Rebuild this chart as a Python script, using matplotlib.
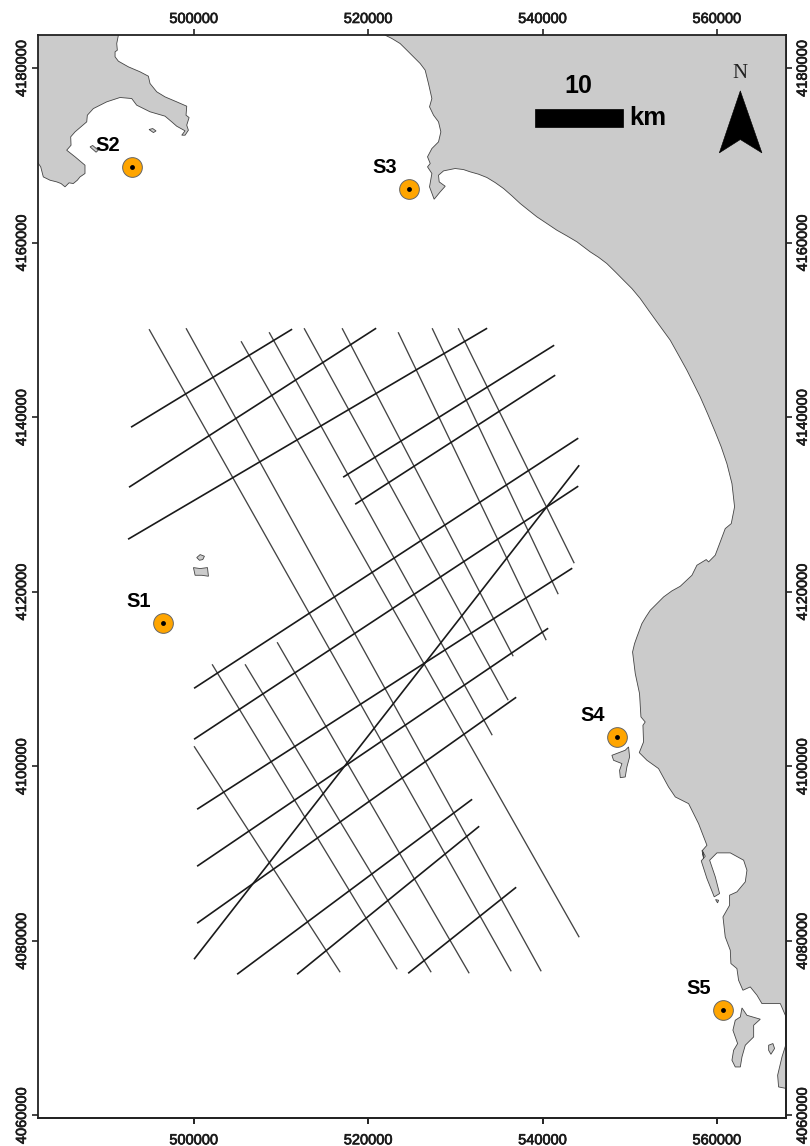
import numpy as np
import matplotlib
matplotlib.use("Agg")
import matplotlib.pyplot as plt
import matplotlib.patheffects as pe
from matplotlib.patches import Polygon, Rectangle

plt.rcParams['font.family'] = ['Liberation Sans', 'DejaVu Sans']

# All coordinates are easting, northing in km
x_ticks = [500000, 520000, 540000, 560000]
y_ticks = [4060000, 4080000, 4100000, 4120000, 4140000, 4160000, 4180000]
x_limits = [482.1, 567.9]
y_limits = [4059.7, 4183.8]

site_names = ['S1', 'S2', 'S3', 'S4', 'S5']
site_e = [496.44, 492.89, 524.67, 548.54, 560.70]
site_n = [4116.40, 4168.65, 4166.13, 4103.33, 4072.04]

# NW-SE tracks: (E start, N start, E end, N end)
tracks_nwse = [
    (494.84, 4150.09, 536.38, 4076.51),
    (499.08, 4150.20, 539.82, 4076.51),
    (505.39, 4148.71, 544.18, 4080.41),
    (508.61, 4149.74, 534.20, 4103.56),
    (512.62, 4150.20, 536.03, 4107.57),
    (516.98, 4150.20, 536.61, 4112.61),
    (523.41, 4149.74, 540.39, 4114.45),
    (527.31, 4150.20, 541.77, 4119.72),
    (530.30, 4150.20, 543.61, 4123.27),
    (500.00, 4102.30, 516.76, 4076.40),
    (502.07, 4111.69, 523.30, 4076.74),
    (505.85, 4111.69, 527.20, 4076.40),
    (509.53, 4114.22, 531.56, 4076.28),
]
# SW-NE tracks
tracks_swne = [
    (492.77, 4138.86, 511.25, 4150.09),
    (492.54, 4131.98, 520.89, 4150.20),
    (492.43, 4126.02, 533.62, 4150.20),
    (517.10, 4133.13, 541.31, 4148.25),
    (518.48, 4130.03, 541.43, 4144.82),
    (500.00, 4108.94, 544.07, 4137.60),
    (500.00, 4103.10, 544.07, 4132.10),
    (500.35, 4095.08, 543.38, 4122.70),
    (500.35, 4088.55, 540.62, 4115.82),
    (500.35, 4082.02, 536.95, 4107.91),
    (504.94, 4076.17, 531.90, 4096.22),
    (511.82, 4076.17, 532.71, 4093.13),
    (524.56, 4076.28, 536.95, 4086.14),
    (500.00, 4077.89, 544.18, 4134.50),
]

land_nw = [
    (491.32, 4185), (491.32, 4183.78), (491.13, 4182.82), (491.20, 4182.06), (490.94, 4181.87),
    (490.94, 4181.30), (491.32, 4180.80), (492.47, 4180.15), (493.81, 4179.58), (494.76, 4179.08),
    (494.95, 4178.24), (495.72, 4177.29), (496.67, 4176.71), (498.01, 4176.14), (499.16, 4175.64),
    (499.08, 4174.61), (499.43, 4174.34), (499.16, 4173.47), (499.35, 4172.89), (498.97, 4172.32),
    (498.59, 4172.32), (498.97, 4172.82), (498.01, 4173.35), (497.44, 4173.85), (496.67, 4174.50),
    (494.95, 4175.00), (493.42, 4175.76), (492.85, 4176.52), (491.51, 4176.64), (489.98, 4176.14),
    (488.45, 4175.37), (487.76, 4174.61), (487.69, 4173.85), (486.35, 4172.70), (485.85, 4172.13),
    (485.89, 4171.17), (485.39, 4170.60), (486.35, 4169.84), (487.49, 4168.88), (487.49, 4167.93),
    (486.92, 4167.54), (486.61, 4167.16), (486.15, 4166.78), (485.66, 4166.86), (485.20, 4166.40),
    (484.74, 4166.78), (484.24, 4166.97), (483.48, 4167.16), (482.71, 4167.54),
    (482.41, 4168.69), (482.02, 4169.26), (481, 4169.26), (481, 4185),
]
land_east = [
    (521.92, 4185), (521.92, 4183.78), (522.69, 4183.40), (523.64, 4182.82), (524.41, 4182.06),
    (525.17, 4181.30), (525.94, 4180.53), (526.51, 4179.77),
    (526.89, 4178.24), (527.28, 4176.52), (527.01, 4175.57), (527.47, 4174.61), (528.04, 4173.85),
    (528.31, 4172.70), (528.04, 4171.55), (527.28, 4170.79), (526.78, 4169.84), (527.09, 4169.07),
    (526.78, 4168.69), (527.28, 4167.93), (527.01, 4166.40), (527.54, 4164.98), (528.23, 4165.82),
    (528.81, 4166.47), (528.12, 4166.97), (528.04, 4167.73), (528.62, 4168.23), (529.95, 4168.50),
    (530.91, 4168.38), (531.67, 4168.12), (532.63, 4167.85), (533.59, 4167.47), (534.54, 4166.89),
    (535.50, 4166.21), (536.46, 4165.37), (537.41, 4164.49), (538.37, 4163.72), (539.33, 4162.96),
    (540.47, 4162.20), (541.62, 4161.43), (542.77, 4160.78), (543.92, 4160.10), (545.44, 4158.95),
    (546.40, 4158.33), (547.35, 4157.61), (548.31, 4156.67), (549.27, 4155.70), (550.22, 4154.75),
    (551.18, 4153.60), (552.13, 4152.26), (553.09, 4150.93), (554.62, 4148.83), (555.58, 4147.11),
    (556.53, 4145.39), (557.30, 4143.86), (558.06, 4142.33), (558.90, 4140.42),
    (559.78, 4138.32), (560.47, 4136.60), (561.12, 4134.69), (561.70, 4132.40), (562.00, 4129.73),
    (561.62, 4127.81), (560.93, 4127.24), (560.36, 4125.72), (559.78, 4124.19), (559.02, 4123.42),
    (558.75, 4123.69), (557.68, 4123.04), (557.11, 4121.89), (555.77, 4120.63), (554.81, 4120.10),
    (553.86, 4119.41), (553.09, 4118.64), (552.33, 4117.88), (551.83, 4117.12),
    (551.37, 4116.35), (550.80, 4114.82), (550.53, 4114.06), (550.30, 4113.10), (550.61, 4110.62),
    (551.10, 4108.33), (551.26, 4105.66), (551.75, 4105.08), (551.49, 4104.70), (551.56, 4102.79),
    (551.07, 4101.57), (551.95, 4100.69), (553.28, 4099.74), (554.43, 4097.63), (555.20, 4096.49),
    (556.73, 4095.72), (557.87, 4093.43), (558.83, 4090.95), (558.33, 4090.38), (558.45, 4089.42),
    (558.26, 4090.38), (558.64, 4089.70), (558.18, 4089.16), (558.83, 4087.14), (559.67, 4085.04),
    (560.28, 4085.42), (559.79, 4087.33), (559.14, 4089.24), (559.98, 4090.08), (561.51, 4090.08),
    (563.04, 4089.24), (563.42, 4088.09), (563.23, 4086.76), (562.27, 4085.61), (561.43, 4085.23),
    (561.43, 4084.08), (560.67, 4082.74), (560.93, 4080.45), (561.51, 4078.92), (561.58, 4077.40),
    (562.27, 4076.82), (562.46, 4075.49), (562.96, 4074.34), (563.80, 4074.72), (564.57, 4073.77),
    (565.14, 4072.81), (567.25, 4072.81), (567.82, 4071.48), (569, 4071.48), (569, 4185),
]
land_south = [
    (567.90, 4068.15), (567.44, 4066.70), (566.94, 4064.60), (567.05, 4063.26), (568.01, 4063.07),
    (569, 4063.07), (569, 4068.15),
]
islands = [
    [(562.85, 4072.31), (563.42, 4071.47), (564.95, 4071.02), (564.19, 4070.33), (564.19, 4068.99),
     (563.23, 4068.04), (562.85, 4066.70), (562.66, 4065.55), (562.08, 4065.55), (561.70, 4066.32),
     (561.89, 4067.46), (562.35, 4068.23), (561.81, 4069.76), (562.08, 4070.90), (562.66, 4071.28)],
    [(565.91, 4068.04), (566.40, 4068.23), (566.59, 4067.66), (566.17, 4067.00), (565.91, 4067.46)],
    [(559.82, 4084.73), (560.17, 4084.65), (560.05, 4084.35)],
    [(547.93, 4101.26), (549.46, 4101.84), (549.84, 4102.22), (549.96, 4101.07), (549.65, 4099.93),
     (549.46, 4098.78), (548.89, 4098.70), (548.81, 4099.54), (549.08, 4100.31), (548.12, 4100.69)],
    [(499.93, 4122.77), (500.70, 4122.66), (501.54, 4122.77), (501.65, 4121.78), (500.89, 4121.89),
     (500.12, 4121.89)],
    [(500.31, 4123.92), (500.70, 4124.26), (501.19, 4124.07), (501.00, 4123.69), (500.62, 4123.61)],
    [(494.84, 4172.97), (495.26, 4173.08), (495.64, 4172.81), (495.34, 4172.62)],
    [(488.07, 4170.98), (488.37, 4171.14), (489.02, 4170.60), (488.76, 4170.37)],
]
scale_corner = (539.06, 4173.27)
scale_length = 10.1
scale_height = 2.03
north_arrow = [(562.66, 4177.40), (560.25, 4170.29), (562.66, 4171.82), (565.14, 4170.29)]

LAND = '#CBCBCB'
EDGE = '#444444'
thicken = [pe.withStroke(linewidth=0.5, foreground='#1a1a1a')]


def metres(points):
    return np.asarray(points, dtype=float) * 1000.0


def style_labels(labels, rotation=0):
    for lab in labels:
        lab.set_rotation(rotation)
        lab.set_path_effects(thicken)
        if rotation:
            lab.set_va('center')


fig = plt.figure(figsize=(8.1, 11.46), dpi=100)
ax = fig.add_axes([38 / 810, 1 - 1118 / 1146, (786 - 38) / 810, (1118 - 35) / 1146])
ax.set_xlim(*(np.array(x_limits) * 1000))
ax.set_ylim(*(np.array(y_limits) * 1000))

for poly in [land_nw, land_east, land_south] + islands:
    ax.add_patch(Polygon(metres(poly), closed=True, facecolor=LAND, edgecolor=EDGE,
                         linewidth=0.6, zorder=1))

for e0, n0, e1, n1 in tracks_nwse:
    ax.plot(metres([e0, e1]), metres([n0, n1]), color='#444444', lw=0.95, zorder=2,
            solid_capstyle='butt')
for e0, n0, e1, n1 in tracks_swne:
    ax.plot(metres([e0, e1]), metres([n0, n1]), color='#1a1a1a', lw=1.2, zorder=3,
            solid_capstyle='butt')

ax.plot(metres(site_e), metres(site_n), ls='none', marker='o', ms=14.2, mfc='#FFA500',
        mec='#666666', mew=0.7, zorder=4)
ax.plot(metres(site_e), metres(site_n), ls='none', marker='o', ms=3.5, mfc='black',
        mec='black', mew=0, zorder=5)
for name, e, n in zip(site_names, site_e, site_n):
    ax.annotate(name, xy=(e * 1000, n * 1000), xytext=(-17.5, 15.5), textcoords='offset points',
                ha='center', va='center', fontsize=14.5, fontweight='bold', color='black', zorder=6)

ax.add_patch(Rectangle((scale_corner[0] * 1000, scale_corner[1] * 1000), scale_length * 1000,
                       scale_height * 1000, facecolor='black', edgecolor='black', lw=0.5, zorder=5))
ax.text(544100, 4177970, '10', ha='center', va='center', fontsize=18, fontweight='bold', zorder=6)
ax.text(552060, 4174340, 'km', ha='center', va='center', fontsize=18.5, fontweight='bold', zorder=6)
ax.add_patch(Polygon(metres(north_arrow), closed=True, facecolor='black', edgecolor='black',
                     lw=0.4, zorder=5))
ax.text(562660, 4179350, 'N', ha='center', va='center', fontsize=15, family='Liberation Serif',
        color='#222222', zorder=6)

tick_style = dict(direction='out', length=4, width=1.2, color='#222222', labelsize=10.5,
                  labelcolor='#1a1a1a')
ax.set_xticks(x_ticks)
ax.set_yticks(y_ticks)
ax.ticklabel_format(useOffset=False, style='plain')
ax.tick_params(axis='both', top=True, left=True, bottom=True, right=False, labeltop=True,
               labelbottom=False, labelright=False, pad=2.5, **tick_style)
style_labels(ax.get_xticklabels(which='major'))
ax.tick_params(axis='y', labelrotation=90, pad=2.5)
style_labels(ax.get_yticklabels(), rotation=90)

bottom_axis = ax.secondary_xaxis('bottom')
bottom_axis.set_xticks(x_ticks)
bottom_axis.tick_params(pad=7, **tick_style)
bottom_axis.xaxis.set_major_formatter(lambda v, _: f'{int(v)}')
right_axis = ax.secondary_yaxis('right')
right_axis.set_yticks(y_ticks)
right_axis.tick_params(pad=3, labelrotation=90, **tick_style)
right_axis.yaxis.set_major_formatter(lambda v, _: f'{int(v)}')
for part in (bottom_axis, right_axis):
    part.spines[:].set_linewidth(1.3)
    part.spines[:].set_color('#222222')
style_labels(bottom_axis.get_xticklabels())
style_labels(right_axis.get_yticklabels(), rotation=90)

for side in ax.spines.values():
    side.set_linewidth(1.3)
    side.set_color('#222222')

fig.savefig('out.png', dpi=100, facecolor='white')
